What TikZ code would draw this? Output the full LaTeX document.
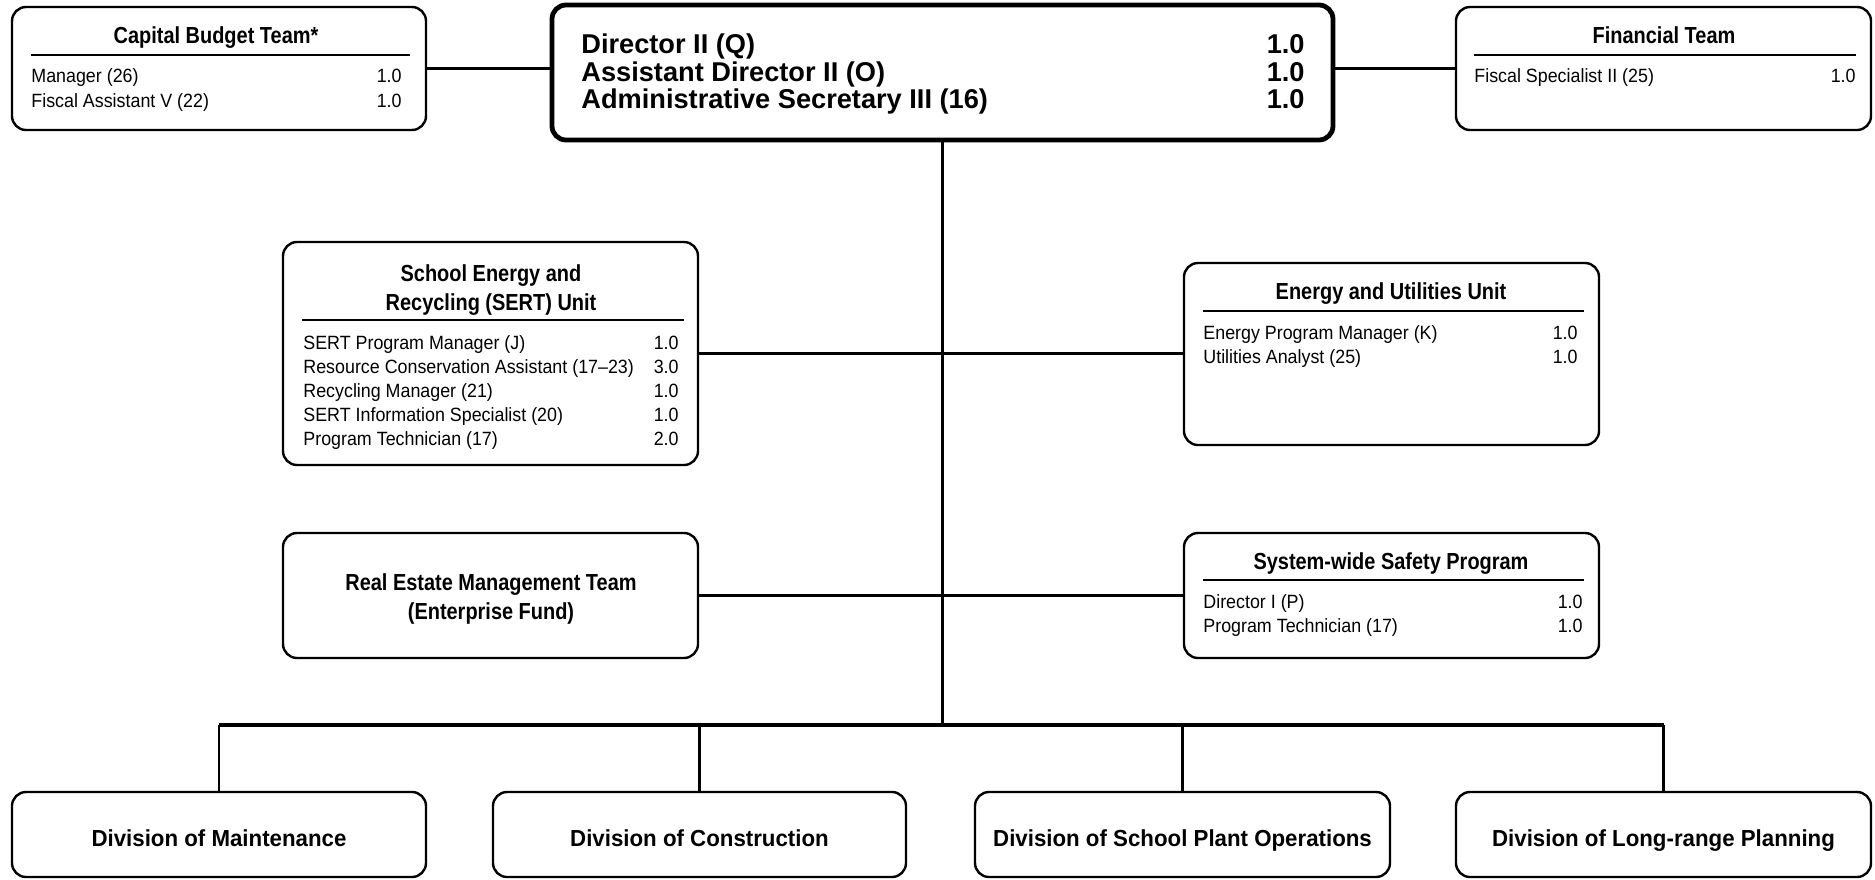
\documentclass[tikz,border=0pt]{standalone}
\usepackage{fontspec}
\setmainfont{Liberation Sans}
\newfontfamily\narrowsans{Liberation Sans}[FakeStretch=0.86]
\newfontfamily\itemsans{Liberation Sans}[FakeStretch=0.93]
\newfontfamily\divsans{Liberation Sans}[FakeStretch=0.96]
\usetikzlibrary{fit}
\begin{document}
\begin{tikzpicture}[x=0.5pt,y=-0.5pt,
  frame/.style={draw, line width=1.2pt, rounded corners=7pt, inner sep=0pt},
  headframe/.style={frame, line width=2.4pt},
  wire/.style={line width=1.3pt},
  bus/.style={line width=1.6pt},
  rulebar/.style={line width=1.3pt},
  ttl/.style={font=\narrowsans\bfseries\fontsize{11.6}{14}\selectfont, inner sep=0pt, anchor=base},
  itm/.style={font=\itemsans\fontsize{9.6}{12}\selectfont, inner sep=0pt, anchor=base west},
  fte/.style={font=\itemsans\fontsize{9.6}{12}\selectfont, inner sep=0pt, anchor=base east},
  hditm/.style={font=\bfseries\fontsize{13.6}{16}\selectfont, inner sep=0pt, anchor=base west},
  hdfte/.style={font=\bfseries\fontsize{13.6}{16}\selectfont, inner sep=0pt, anchor=base east},
  divtxt/.style={font=\divsans\bfseries\fontsize{11.6}{14}\selectfont, inner sep=0pt, anchor=base}
]
\useasboundingbox (0,0) rectangle (1875,879);
\fill[white] (0,0) rectangle (1875,879);

% ---- boxes ----
\node[frame, fit={(12,7) (426,130)}] (cbt) {};
\node[headframe, fit={(552,5) (1333,140)}] (dir) {};
\node[frame, fit={(1456,7) (1871,130)}] (fin) {};
\node[frame, fit={(283,242) (698,465)}] (sert) {};
\node[frame, fit={(1184,263) (1599,445)}] (euu) {};
\node[frame, fit={(283,533) (698,658)}] (rem) {};
\node[frame, fit={(1184,533) (1599,658)}] (safe) {};
\node[frame, fit={(12,792) (426,877)}] (dmaint) {};
\node[frame, fit={(493,792) (906,877)}] (dcons) {};
\node[frame, fit={(975,792) (1390,877)}] (dplant) {};
\node[frame, fit={(1456,792) (1871,877)}] (dplan) {};

% ---- connectors ----
\coordinate (busmid) at (942,725);
\draw[wire] (cbt.east) -- (cbt.east -| dir.west);
\draw[wire] (fin.west -| dir.east) -- (fin.west);
\draw[wire] (dir.south) -- (dir.south |- busmid);
\draw[wire] (sert.east) -- (sert.east -| euu.west);
\draw[wire] (rem.east) -- (rem.east -| safe.west);
\draw[bus] (dmaint.north |- busmid) -- (dplan.north |- busmid);
\foreach \d in {dmaint,dcons,dplant,dplan}
  \draw[wire] (\d.north |- busmid) -- (\d.north);

% ---- Capital Budget Team ----
\node[ttl] (cbtt) at (216,43) {Capital Budget Team*};
\draw[rulebar] (31,55) -- (410,55);
\node[itm] (cbt1) at (31,82) {Manager (26)};
\node[fte] (cbt1n) at (402,82) {1.0};
\node[itm] (cbt2) at (31,107) {Fiscal Assistant V (22)};
\node[fte] (cbt2n) at (402,107) {1.0};

% ---- Director ----
\node[hditm] (dir1) at (581,53) {Director II (Q)};
\node[hdfte] (dir1n) at (1305,53) {1.0};
\node[hditm] (dir2) at (581,81) {Assistant Director II (O)};
\node[hdfte] (dir2n) at (1305,81) {1.0};
\node[hditm] (dir3) at (581,108) {Administrative Secretary III (16)};
\node[hdfte] (dir3n) at (1305,108) {1.0};

% ---- Financial Team ----
\node[ttl] (fint) at (1664,43) {Financial Team};
\draw[rulebar] (1474,55) -- (1856,55);
\node[itm] (fin1) at (1474,82) {Fiscal Specialist II (25)};
\node[fte] (fin1n) at (1856,82) {1.0};

% ---- SERT Unit ----
\node[ttl] (sertta) at (491,281) {School Energy and};
\node[ttl] (serttb) at (491,310) {Recycling (SERT) Unit};
\draw[rulebar] (302,320) -- (684,320);
\node[itm] (sert1) at (303,349) {SERT Program Manager (J)};
\node[fte] (sert1n) at (679,349) {1.0};
\node[itm] (sert2) at (303,373) {Resource Conservation Assistant (17–23)};
\node[fte] (sert2n) at (679,373) {3.0};
\node[itm] (sert3) at (303,397) {Recycling Manager (21)};
\node[fte] (sert3n) at (679,397) {1.0};
\node[itm] (sert4) at (303,421) {SERT Information Specialist (20)};
\node[fte] (sert4n) at (679,421) {1.0};
\node[itm] (sert5) at (303,445) {Program Technician (17)};
\node[fte] (sert5n) at (679,445) {2.0};

% ---- Energy and Utilities Unit ----
\node[ttl] (euut) at (1391,299) {Energy and Utilities Unit};
\draw[rulebar] (1203,311) -- (1584,311);
\node[itm] (euu1) at (1203,339) {Energy Program Manager (K)};
\node[fte] (euu1n) at (1578,339) {1.0};
\node[itm] (euu2) at (1203,363) {Utilities Analyst (25)};
\node[fte] (euu2n) at (1578,363) {1.0};

% ---- Real Estate ----
\node[ttl] (remta) at (491,590) {Real Estate Management Team};
\node[ttl] (remtb) at (491,619) {(Enterprise Fund)};

% ---- Safety ----
\node[ttl] (safet) at (1391,569) {System-wide Safety Program};
\draw[rulebar] (1203,580) -- (1584,580);
\node[itm] (safe1) at (1203,608) {Director I (P)};
\node[fte] (safe1n) at (1583,608) {1.0};
\node[itm] (safe2) at (1203,632) {Program Technician (17)};
\node[fte] (safe2n) at (1583,632) {1.0};

% ---- Divisions ----
\node[divtxt] (dmaintt) at (dmaint |- 0,846) {Division of Maintenance};
\node[divtxt] (dconst) at (dcons |- 0,846) {Division of Construction};
\node[divtxt] (dplantt) at (dplant |- 0,846) {Division of School Plant Operations};
\node[divtxt] (dplant2) at (dplan |- 0,846) {Division of Long-range Planning};
\end{tikzpicture}
\end{document}
